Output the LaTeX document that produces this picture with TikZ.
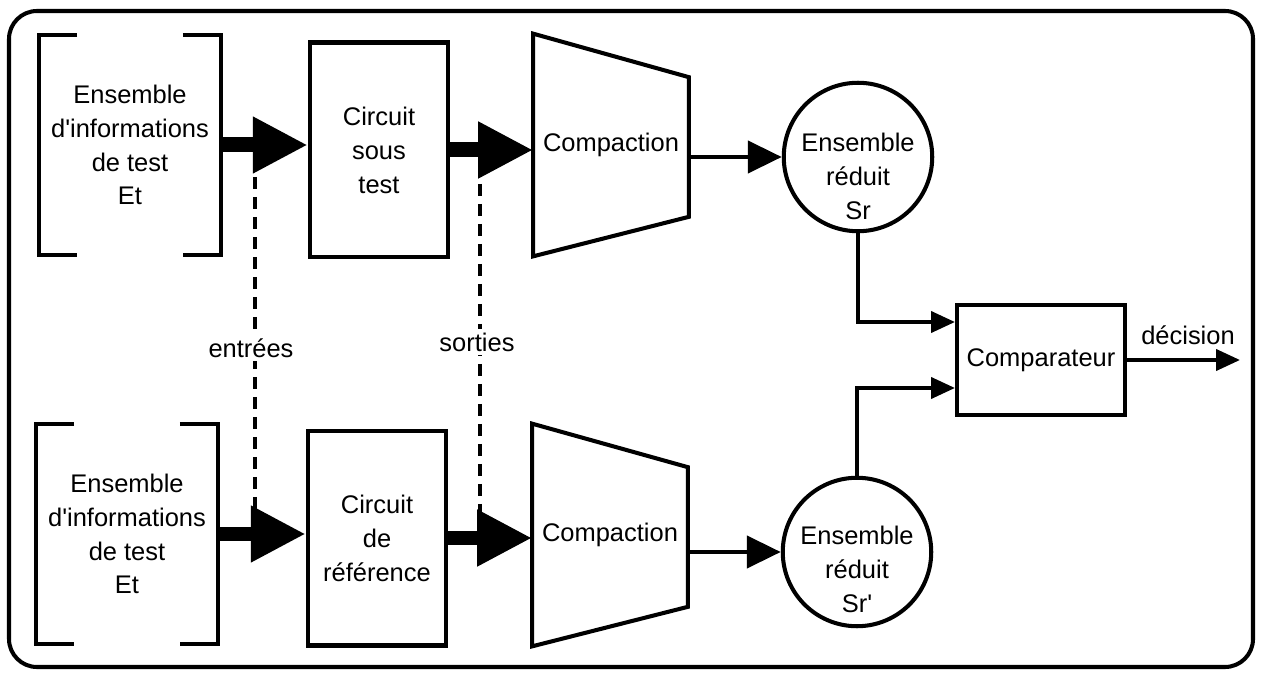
\documentclass[tikz,border=0pt]{standalone}
\usepackage{fontspec}
\setmainfont{Liberation Sans}[Ligatures=TeXOff]
\usetikzlibrary{arrows.meta}
\begin{document}
\begin{tikzpicture}[
x=0.02cm, y=-0.02cm,
every node/.style={font=\fontsize{14.5}{19.3}\selectfont, align=center, inner sep=0pt},
line/.style={line width=2.3pt},
box/.style={draw, line width=2.3pt, minimum width=2.77cm, minimum height=4.3cm},
brkt/.style={minimum width=3.62cm, minimum height=4.4cm},
trap/.style={minimum width=3.1cm, minimum height=4.44cm},
redset/.style={draw, circle, line width=2.3pt, minimum size=2.97cm},
fat/.style={line width=0.3cm, -{Triangle[length=1.1cm, width=1.06cm]}},
flow/.style={line width=2.6pt, -{Triangle[length=0.68cm, width=0.64cm]}},
small/.style={line width=2.3pt, -{Triangle[length=0.48cm, width=0.42cm]}},
dashline/.style={line width=2.2pt, dash pattern=on 0.24cm off 0.16cm},
lbl/.style={fill=white, inner sep=2pt}
]
\useasboundingbox (0,0) rectangle (1261,675);
\draw[line, rounded corners=0.56cm] (9,11) rectangle (1253,667);

% top row
\node[brkt] (et1) at (130,145) {Ensemble\\d'informations\\de test\\Et};
\node[box] (cst) at (379,150) {Circuit\\sous\\test};
\node[trap] (comp1) at (611,145) {Compaction};
\node[redset] (sr1) at (858,157) {};
\node (sr1txt) at (858,176) {Ensemble\\réduit\\Sr};

% bottom row
\node[brkt] (et2) at (127,534) {Ensemble\\d'informations\\de test\\Et};
\node[box] (crt) at (377,538) {Circuit\\de\\référence};
\node[trap] (comp2) at (610,535) {Compaction};
\node[redset] (sr2) at (857,552) {};
\node (sr2txt) at (857,569) {Ensemble\\réduit\\Sr'};

\node[draw, line width=2.3pt, minimum width=3.36cm, minimum height=2.2cm] (cmp) at (1041,360) {Comparateur};

% brackets and trapezes
\foreach \n in {et1,et2} {
  \draw[line] ([xshift=0.76cm]\n.north west) -| (\n.south west) -- ++(0.76cm,0);
  \draw[line] ([xshift=-0.76cm]\n.north east) -| (\n.south east) -- ++(-0.76cm,0);
}
\foreach \n in {comp1,comp2}
  \draw[line] (\n.north west) -- ([yshift=-0.87cm]\n.north east) -- ([yshift=0.79cm]\n.south east) -- (\n.south west) -- cycle;

% arrows
\draw[fat] (et1.east) -- (et1.east -| cst.west);
\draw[fat] (cst.east) -- (cst.east -| comp1.west);
\draw[flow] (sr1.west -| comp1.east) -- (sr1.west);
\draw[fat] (et2.east) -- (et2.east -| crt.west);
\draw[fat] (crt.east) -- (crt.east -| comp2.west);
\draw[flow] (sr2.west -| comp2.east) -- (sr2.west);

\coordinate (in1) at ([yshift=0.76cm]cmp.west);
\coordinate (in2) at ([yshift=-0.56cm]cmp.west);
\draw[small] (sr1.south) |- (in1);
\draw[small] (sr2.north) |- (in2);
\coordinate (dec) at (1240,360);
\draw[small] (cmp.east) -- (dec);
\node (declbl) at (1188,335) {décision};

% dashed links
\coordinate (e1) at (255,177);
\coordinate (e2) at (255,510);
\coordinate (s1) at (480,184);
\coordinate (s2) at (480,517);
\draw[dashline] (e1) -- (e2);
\draw[dashline] (s1) -- (s2);
\node[lbl] (entrees) at (251,348) {entrées};
\node[lbl] (sorties) at (477,342) {sorties};
\end{tikzpicture}
\end{document}
